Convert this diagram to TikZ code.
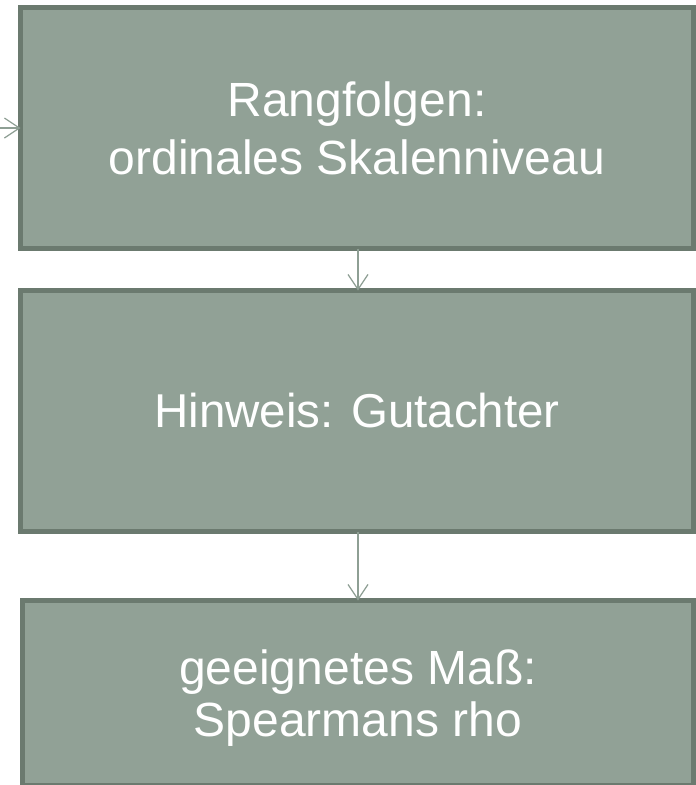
\documentclass[tikz,border=0pt]{standalone}
\usepackage{fontspec}
\setmainfont{Liberation Sans}
\usetikzlibrary{arrows.meta}
\definecolor{boxfill}{HTML}{91A196}
\definecolor{boxline}{HTML}{6B7A6F}
\definecolor{arrowcol}{HTML}{8E9F94}
\begin{document}
\begin{tikzpicture}[x=1pt,y=-1pt,
  flowbox/.style={draw=boxline, fill=boxfill, line width=5pt, rectangle,
    inner sep=0pt, outer sep=0pt, text=white, align=center},
  flowarrow/.style={draw=arrowcol, line width=1.2pt,
    -{Straight Barb[length=15pt,width=20pt,line width=1.2pt]}}]
\useasboundingbox (0,0) rectangle (696,785);
\begin{scope}
\clip (0,0) rectangle (696,785);
\node[flowbox, minimum width=673pt, minimum height=241pt,
  font=\fontsize{48}{58}\selectfont] (b1) at (357,128)
  {Rangfolgen:\\ordinales Skalenniveau};
\node[flowbox, minimum width=673pt, minimum height=241pt,
  font=\fontsize{47.5}{52}\selectfont] (b2) at (357,411)
  {Hinweis: Gutachter};
\node[flowbox, minimum width=671pt, minimum height=185pt] (b3) at (358,693) {};
\node[text=white, align=center, font=\fontsize{48}{52}\selectfont,
  inner sep=0pt] (t3) at (358,698) {geeignetes Maß:\\Spearmans rho};
\coordinate (in) at (0,128);
\draw[flowarrow] (in) -- (b1.west);
\draw[flowarrow] ([xshift=1pt]b1.south) -- ([xshift=1pt]b2.north);
\draw[flowarrow] ([xshift=1pt]b2.south) -- ([xshift=1pt]b2.south |- b3.north);
\end{scope}
\end{tikzpicture}
\end{document}
